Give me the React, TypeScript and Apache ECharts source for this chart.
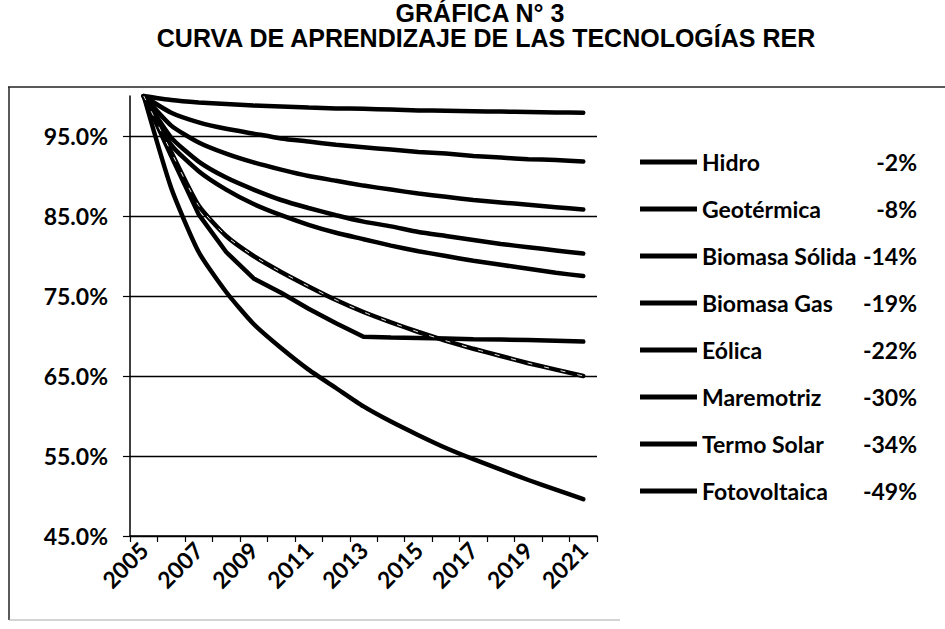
import React, { useEffect, useRef } from "react";
import * as echarts from "echarts";

const years = ["2005","2006","2007","2008","2009","2010","2011","2012","2013","2014","2015","2016","2017","2018","2019","2020","2021"];
const seriesNames = ["Hidro","Geotérmica","Biomasa Sólida","Biomasa Gas","Eólica","Maremotriz","Termo Solar","Fotovoltaica"];
const pctLabels = ["-2%","-8%","-14%","-19%","-22%","-30%","-34%","-49%"];
const titleLines = ["GRÁFICA N° 3", "CURVA DE APRENDIZAJE DE LAS TECNOLOGÍAS RER"];

const hidro = [100,99.5,99.2,99.0,98.8,98.7,98.55,98.45,98.4,98.3,98.2,98.15,98.1,98.05,98.0,97.95,97.9];
const geotermica = [100,97.9,96.7,95.9,95.3,94.7,94.3,93.9,93.6,93.3,93.0,92.8,92.5,92.3,92.1,92.0,91.8];
const biomasaSolida = [100,96.3,94.2,92.8,91.7,90.8,90.0,89.4,88.8,88.3,87.8,87.4,87.0,86.7,86.4,86.1,85.8];
const biomasaGas = [100,94.8,91.8,89.8,88.3,87.0,86.0,85.1,84.3,83.7,83.0,82.5,82.0,81.5,81.1,80.7,80.3];
const eolica = [100,93.9,90.6,88.3,86.5,85.1,83.9,82.9,82.1,81.3,80.6,80.0,79.4,78.9,78.4,77.9,77.5];
const maremotriz = [100,92.5,85.2,80.5,77.2,75.4,73.4,71.6,69.9,69.8,69.75,69.7,69.6,69.55,69.5,69.4,69.3];
const termoSolar = [100,93.0,86.3,82.5,80.0,78.0,76.2,74.5,73.0,71.7,70.5,69.4,68.4,67.5,66.6,65.8,65.0];
const fotovoltaica = [100,88.5,80.5,75.5,71.5,68.5,65.8,63.5,61.2,59.3,57.6,56.0,54.6,53.3,52.0,50.8,49.6];

const seriesValues = [hidro, geotermica, biomasaSolida, biomasaGas, eolica, maremotriz, termoSolar, fotovoltaica];

const FONT = "Lato, 'Noto Sans', sans-serif";
const TITLE_FONT = "'Liberation Sans', Arial, sans-serif";

export default function App() {
  const ref = useRef<HTMLDivElement>(null);
  useEffect(() => {
    if (!ref.current) return;
    const chart = echarts.init(ref.current, null, { renderer: "svg" });
    const pctMap: Record<string, string> = {};
    seriesNames.forEach((n, i) => (pctMap[n] = pctLabels[i]));
    const lineSeries: any[] = seriesNames.map((name, i) => ({
      name,
      type: "line",
      data: seriesValues[i],
      symbol: "none",
      smooth: i === 5 ? false : 0.2,
      lineStyle: { color: "#000", width: 4.5, cap: "round" },
      itemStyle: { color: "#000" },
      z: 2,
    }));
    lineSeries.push({
      name: "Termo Solar (trazo)",
      type: "line",
      data: termoSolar,
      symbol: "none",
      smooth: 0.2,
      silent: true,
      lineStyle: { color: "#fff", width: 1, type: [5, 12], opacity: 0.9 },
      z: 3,
    });
    chart.setOption({
      animation: false,
      backgroundColor: "#fff",
      graphic: [
        { type: "text", x: 480, y: 0, style: { text: titleLines[0], font: `bold 25px ${TITLE_FONT}`, fill: "#000", textAlign: "center", textVerticalAlign: "top" } },
        { type: "text", x: 486, y: 25.5, style: { text: titleLines[1], font: `bold 25px ${TITLE_FONT}`, fill: "#000", textAlign: "center", textVerticalAlign: "top" } },
        { type: "line", shape: { x1: 8, y1: 87, x2: 945, y2: 87 }, style: { stroke: "#222", lineWidth: 1.5 } },
        { type: "line", shape: { x1: 9, y1: 87, x2: 9, y2: 620 }, style: { stroke: "#222", lineWidth: 1.5 } },
        { type: "line", shape: { x1: 9, y1: 620, x2: 620, y2: 620 }, style: { stroke: "#aaa", lineWidth: 1 } },
      ],
      grid: { left: 130, right: 348, top: 96, bottom: 93, containLabel: false },
      legend: {
        orient: "vertical",
        left: 635,
        top: 144,
        itemWidth: 57,
        itemHeight: 5,
        itemGap: 21,
        icon: "rect",
        data: seriesNames,
        formatter: (name: string) => `{n|${name}}{p|${pctMap[name]}}`,
        textStyle: {
          color: "#000",
          fontFamily: FONT,
          fontSize: 23,
          fontWeight: "bold",
          lineHeight: 26,
          rich: {
            n: { width: 158, fontFamily: FONT, fontSize: 23, fontWeight: "bold", color: "#000" },
            p: { width: 57, align: "right", fontFamily: FONT, fontSize: 23, fontWeight: "bold", color: "#000" },
          },
        },
      },
      xAxis: {
        type: "category",
        data: years,
        boundaryGap: true,
        axisLine: { lineStyle: { color: "#000", width: 1.5 } },
        axisTick: { show: true, interval: 0, length: 6, lineStyle: { color: "#000", width: 1.2 } },
        axisLabel: { interval: 1, rotate: 45, fontSize: 23, fontWeight: "bold", fontFamily: FONT, color: "#000", margin: 10 },
        splitLine: { show: false },
      },
      yAxis: {
        type: "value",
        min: 45,
        max: 100,
        interval: 10,
        axisLine: { show: true, lineStyle: { color: "#000", width: 1.5 } },
        axisTick: { show: true, length: 7, lineStyle: { color: "#000", width: 1.2 } },
        axisLabel: {
          showMaxLabel: false,
          fontSize: 23,
          fontWeight: "bold",
          fontFamily: FONT,
          color: "#000",
          margin: 22,
          formatter: (v: number) => (v >= 100 ? "" : v.toFixed(1) + "%"),
        },
        splitLine: { show: true, showMaxLine: false, lineStyle: { color: "#000", width: 1.3 } },
      },
      series: lineSeries,
    });
    return () => chart.dispose();
  }, []);
  return <div ref={ref} style={{ width: 945, height: 629, position: "absolute", left: 0, top: 0 }} />;
}
